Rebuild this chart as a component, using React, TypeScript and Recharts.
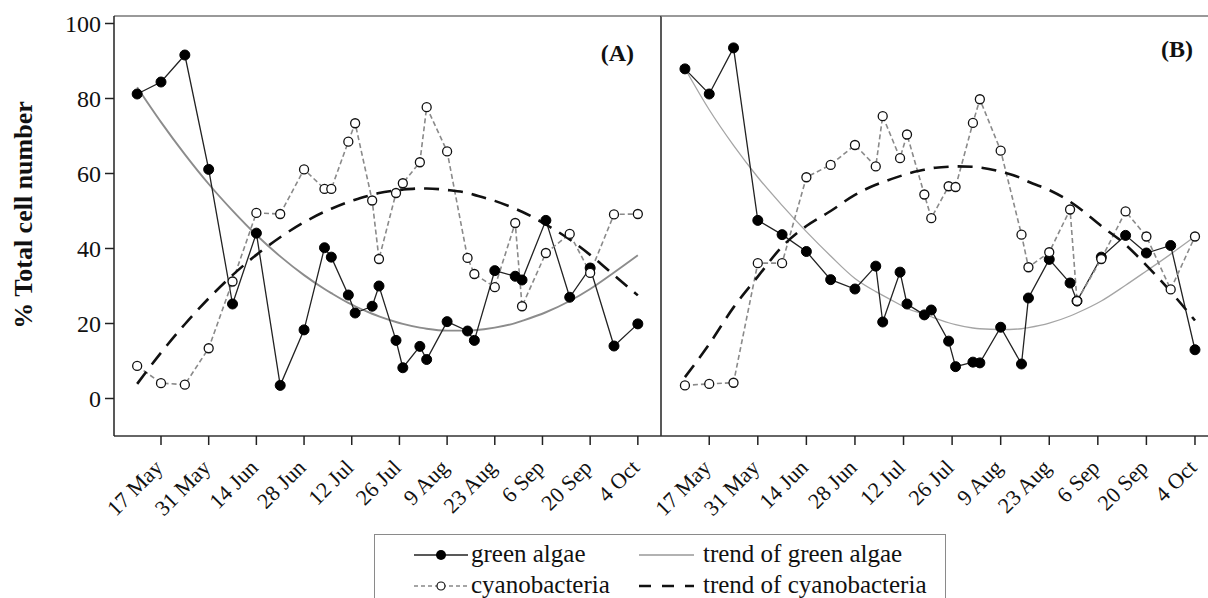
import { LineChart, Line, XAxis, YAxis, ReferenceLine, Legend } from 'recharts';

// days counted from 10 May
const sampleDays = [0, 7, 14, 21, 28, 35, 42, 49, 55, 57, 62, 64, 69, 71, 76, 78, 83, 85, 91, 97, 99, 105, 111, 113, 120, 127, 133, 140, 147];
const tickDays = [7, 21, 35, 49, 63, 77, 91, 105, 119, 133, 147];
const tickLabels = ['17 May', '31 May', '14 Jun', '28 Jun', '12 Jul', '26 Jul', '9 Aug', '23 Aug', '6 Sep', '20 Sep', '4 Oct'];
const yTicks = [0, 20, 40, 60, 80, 100];

// panel A
const greenA = [81.2, 84.4, 91.6, 61.1, 25.2, 44.1, 3.5, 18.3, 40.2, 37.7, 27.6, 22.8, 24.6, 30.0, 15.5, 8.2, 13.9, 10.4, 20.5, 18.0, 15.5, 34.1, 32.6, 31.6, 47.5, 27.0, 34.8, 14.0, 19.9];
const cyanA = [8.7, 4.1, 3.7, 13.4, 31.2, 49.5, 49.2, 61.1, 55.9, 55.9, 68.5, 73.4, 52.8, 37.2, 54.8, 57.4, 63.0, 77.7, 65.9, 37.5, 33.2, 29.7, 46.8, 24.6, 38.8, 43.9, 33.5, 49.1, 49.2];
const greenTrendA = [83.0, 73.7, 65.1, 57.2, 50.1, 43.6, 37.9, 32.9, 29.2, 28.1, 25.5, 24.6, 22.6, 21.9, 20.4, 19.9, 18.9, 18.6, 18.1, 18.1, 18.2, 18.9, 20.1, 20.7, 23.0, 26.0, 29.2, 33.6, 38.2];
const cyanTrendA = [3.9, 12.2, 19.8, 26.7, 32.9, 38.3, 43.0, 47.0, 49.8, 50.6, 52.4, 53.0, 54.3, 54.8, 55.5, 55.7, 56.0, 56.0, 55.6, 54.8, 54.3, 52.7, 50.6, 49.8, 46.4, 42.4, 38.3, 32.9, 27.5];

// panel B
const greenB = [87.9, 81.2, 93.5, 47.5, 43.7, 39.2, 31.7, 29.2, 35.3, 20.4, 33.7, 25.2, 22.3, 23.6, 15.3, 8.5, 9.7, 9.5, 19.0, 9.2, 26.8, 37.1, 30.8, 26.0, 37.7, 43.5, 38.8, 40.8, 13.0];
const cyanB = [3.5, 3.9, 4.2, 36.1, 36.1, 59.0, 62.3, 67.6, 61.9, 75.3, 64.1, 70.4, 54.4, 48.1, 56.6, 56.4, 73.5, 79.8, 66.1, 43.7, 35.0, 39.0, 50.4, 26.0, 37.2, 49.9, 43.2, 29.1, 43.2];
const greenTrendB = [88, 77, 67.5, 59, 51.5, 44.5, 38, 32, 28.5, 27.5, 25, 24, 22.5, 21.8, 20.2, 19.7, 18.8, 18.6, 18.4, 18.6, 18.9, 20.1, 22, 22.8, 26, 30.2, 34, 38.5, 43.2];
const cyanTrendB = [5.7, 14.5, 24.3, 32.5, 40.5, 46, 50, 54.3, 57, 57.7, 59.3, 59.9, 61, 61.4, 61.8, 61.9, 61.8, 61.6, 60.5, 58.7, 57.8, 55.6, 52.5, 51.2, 46, 41, 35.5, 28.5, 20.8];

const serif = '"Liberation Serif", "Times New Roman", serif';

const build = (g: number[], c: number[], gt: number[], ct: number[]) =>
  sampleDays.map((day, i) => ({ day, green: g[i], cyan: c[i], greenTrend: gt[i], cyanTrend: ct[i] }));

const dataA = build(greenA, cyanA, greenTrendA, cyanTrendA);
const dataB = build(greenB, cyanB, greenTrendB, cyanTrendB);

const DateTick = (props: any) => {
  const { x, y, payload } = props;
  const label = tickLabels[tickDays.indexOf(payload.value)];
  const ax = x + 3;
  const ay = y + 22;
  return (
    <text x={ax} y={ay} transform={`rotate(-45 ${ax} ${ay})`} textAnchor="end" fontSize={22} fontFamily={serif} fill="#111">
      {label}
    </text>
  );
};

const LegendBox = () => (
  <div style={{ position: 'relative', width: 572, height: 70, border: '1.5px solid #8a8a8a', borderBottom: 'none', boxSizing: 'border-box', background: '#fff' }}>
    <svg width={572} height={70} style={{ position: 'absolute', left: -1.5, top: -1.5 }}>
      <line x1={40} y1={21} x2={94} y2={21} stroke="#222" strokeWidth={1.4} />
      <circle cx={67} cy={21} r={5} fill="#000" />
      <text x={97} y={28} fontSize={25} fontFamily={serif} fill="#111">green algae</text>

      <line x1={40} y1={52} x2={94} y2={52} stroke="#888" strokeWidth={1.5} strokeDasharray="4 3" />
      <circle cx={67} cy={52} r={4} fill="#fff" stroke="#111" strokeWidth={1.2} />
      <text x={97} y={59} fontSize={25} fontFamily={serif} fill="#111">cyanobacteria</text>

      <line x1={265} y1={21} x2={320} y2={21} stroke="#999" strokeWidth={1.4} />
      <text x={329} y={28} fontSize={25} fontFamily={serif} fill="#111">trend of green algae</text>

      <line x1={265} y1={52} x2={320} y2={52} stroke="#111" strokeWidth={2.6} strokeDasharray="12 11" />
      <text x={329} y={59} fontSize={25} fontFamily={serif} fill="#111">trend of cyanobacteria</text>
    </svg>
  </div>
);

const renderLines = (thinTrend: boolean) => [
  <Line key="gt" type="monotone" dataKey="greenTrend" stroke={thinTrend ? '#a5a5a5' : '#8c8c8c'} strokeWidth={thinTrend ? 1.3 : 1.9} dot={false} activeDot={false} isAnimationActive={false} />,
  <Line key="g" type="linear" dataKey="green" stroke="#222" strokeWidth={1.3} dot={{ r: 5, fill: '#000', stroke: '#000', strokeWidth: 1 }} activeDot={false} isAnimationActive={false} />,
  <Line key="c" type="linear" dataKey="cyan" stroke="#8a8a8a" strokeWidth={1.6} strokeDasharray="5 3" dot={{ r: 4.5, fill: '#fff', stroke: '#111', strokeWidth: 1.3, strokeDasharray: '0' }} activeDot={false} isAnimationActive={false} />,
  <Line key="ct" type="monotone" dataKey="cyanTrend" stroke="#111" strokeWidth={2.6} strokeDasharray="15 9" dot={false} activeDot={false} isAnimationActive={false} />,
];

export default function App() {
  return (
    <div style={{ position: 'fixed', left: 0, top: 0, width: 1208, height: 598, overflow: 'hidden', background: '#fff', fontFamily: serif }}>
      <div style={{ position: 'absolute', left: 0, top: 0 }}>
        <LineChart width={700} height={598} data={dataA} margin={{ top: 16, right: 39, bottom: 132, left: 0 }}>
          <XAxis
            type="number"
            dataKey="day"
            domain={[-6.8, 153.8]}
            ticks={tickDays}
            interval={0}
            tick={<DateTick />}
            tickSize={9}
            height={30}
            axisLine={{ stroke: '#333', strokeWidth: 1.5 }}
            tickLine={{ stroke: '#222', strokeWidth: 1.5 }}
          />
          <YAxis
            type="number"
            domain={[-10, 102]}
            ticks={yTicks}
            interval={0}
            width={114}
            tickSize={9}
            tickMargin={4}
            axisLine={{ stroke: '#222', strokeWidth: 1.5 }}
            tickLine={{ stroke: '#222', strokeWidth: 1.5 }}
            tick={{ fontSize: 24, fill: '#111', fontFamily: serif }}
          />
          <ReferenceLine y={102} stroke="#777" strokeWidth={1.5} />
          <ReferenceLine x={153.8} stroke="#222" strokeWidth={1.5} />
          {renderLines(false)}
          <Legend
            layout="horizontal"
            verticalAlign="middle"
            align="center"
            wrapperStyle={{ left: 374, top: 534, width: 572, height: 70 }}
            content={() => <LegendBox />}
          />
        </LineChart>
      </div>
      <div style={{ position: 'absolute', left: 561, top: 0 }}>
        <LineChart width={660} height={598} data={dataB} margin={{ top: 16, right: 0, bottom: 132, left: 100 }}>
          <XAxis
            type="number"
            dataKey="day"
            domain={[-6.9, 154.5]}
            ticks={tickDays}
            interval={0}
            tick={<DateTick />}
            tickSize={9}
            height={30}
            axisLine={{ stroke: '#333', strokeWidth: 1.5 }}
            tickLine={{ stroke: '#222', strokeWidth: 1.5 }}
          />
          <YAxis type="number" domain={[-10, 102]} hide />
          <ReferenceLine y={102} stroke="#777" strokeWidth={1.5} />
          {renderLines(true)}
        </LineChart>
      </div>
      <div style={{ position: 'absolute', left: 24, top: 215, transform: 'translate(-50%, -50%) rotate(-90deg)', whiteSpace: 'nowrap', fontWeight: 'bold', fontSize: 26, color: '#111' }}>
        % Total cell number
      </div>
      <div style={{ position: 'absolute', left: 540, width: 94, top: 41, textAlign: 'right', fontWeight: 'bold', fontSize: 24, lineHeight: '24px', color: '#111' }}>(A)</div>
      <div style={{ position: 'absolute', left: 1099, width: 94, top: 37, textAlign: 'right', fontWeight: 'bold', fontSize: 24, lineHeight: '24px', color: '#111' }}>(B)</div>
    </div>
  );
}
